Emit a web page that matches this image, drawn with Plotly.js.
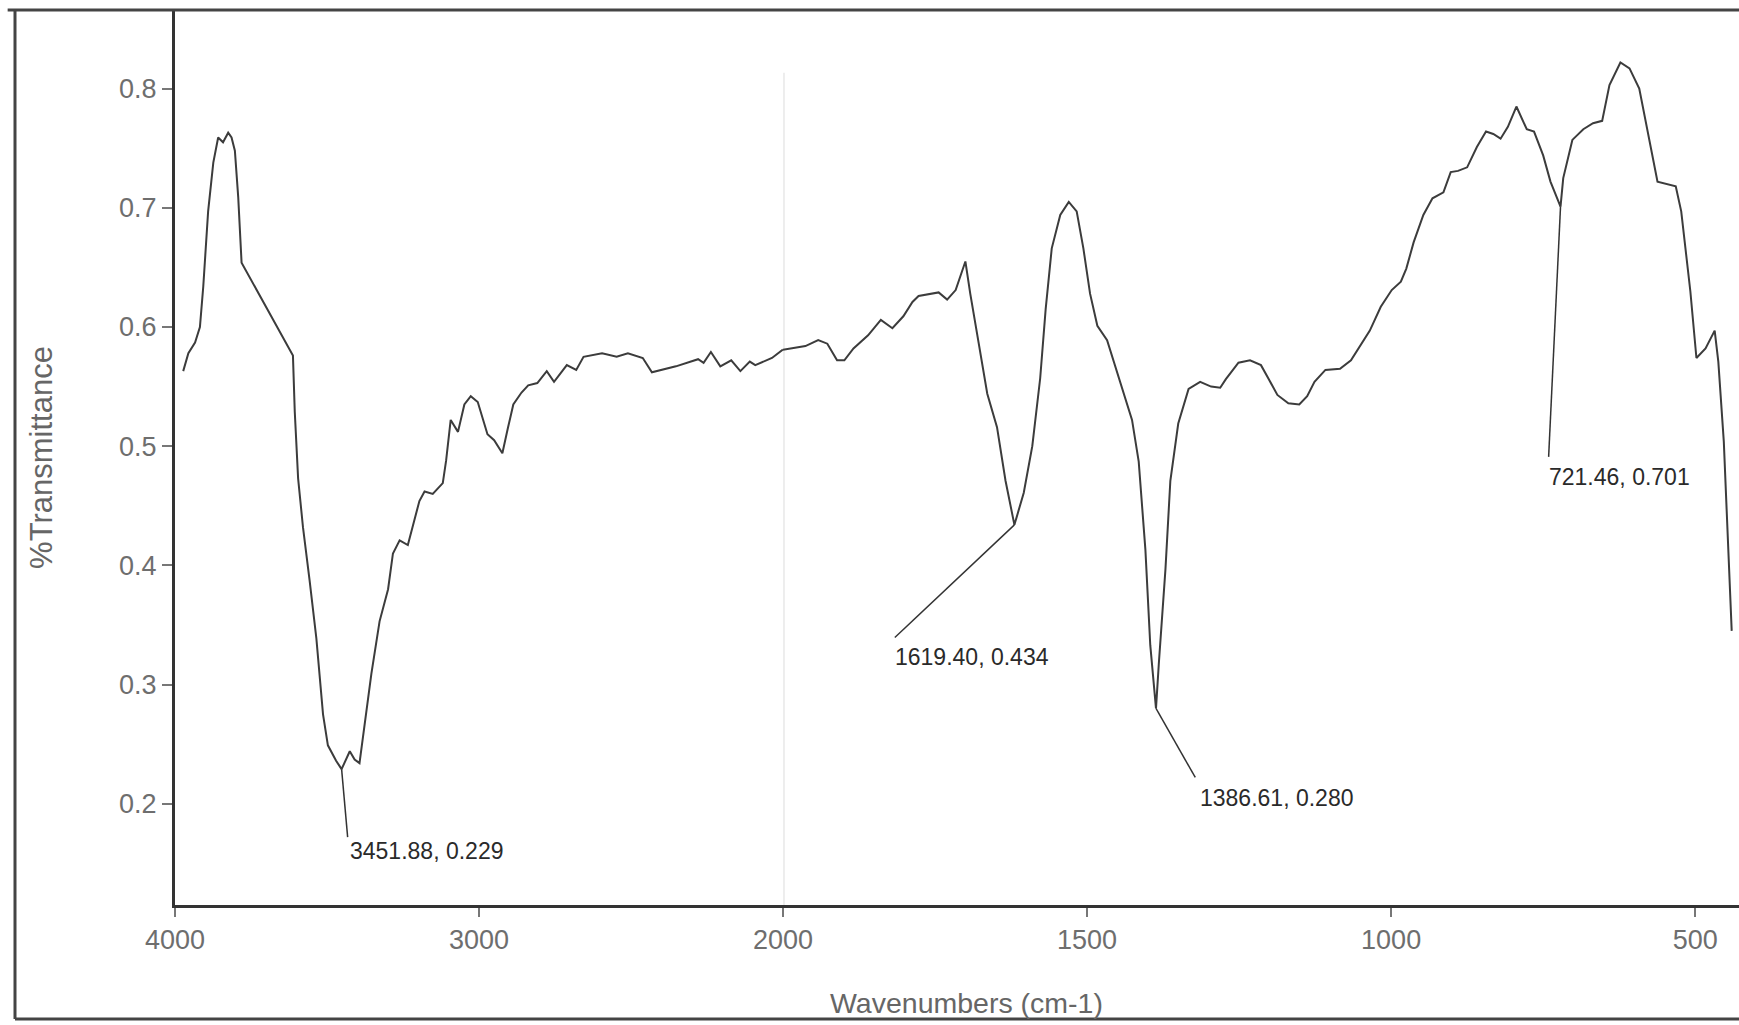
<!DOCTYPE html>
<html>
<head>
<meta charset="utf-8">
<script src="https://cdn.plot.ly/plotly-3.0.1.min.js"></script>
<style>
html, body { margin: 0; padding: 0; background: #ffffff; }
#chart { width: 1739px; height: 1025px; }
</style>
</head>
<body>
<div id="chart"></div>
<script>
// ---- Data ----
const wavenumber = [
  3973, 3956, 3934, 3918, 3907, 3891, 3874, 3858, 3842, 3825, 3814, 3803, 3792, 3781,
  3612, 3606, 3595, 3579, 3557, 3535, 3513, 3497, 3470, 3451.88, 3425, 3409, 3393, 3376,
  3354, 3327, 3299, 3283, 3261, 3234, 3218, 3196, 3179, 3152, 3119, 3108, 3093, 3069,
  3048, 3027, 3004, 2972, 2950, 2923, 2905, 2887, 2860, 2838, 2808, 2777, 2753, 2711,
  2680, 2656, 2595, 2547, 2510, 2461, 2431, 2352, 2279, 2261, 2237, 2206, 2170, 2140,
  2109, 2091, 2036, 2000,
  1963, 1942, 1927, 1911, 1899, 1884, 1860, 1839, 1820, 1802, 1787, 1777, 1744, 1730,
  1716, 1700, 1692, 1678, 1664, 1648, 1634, 1619.40, 1604, 1590, 1577, 1568, 1558, 1544,
  1530, 1517, 1506, 1495, 1483, 1467, 1448, 1426, 1415, 1404, 1396, 1386.61, 1382, 1371,
  1363, 1350, 1333, 1314, 1296, 1281, 1272, 1251, 1232, 1214, 1202, 1187, 1169, 1151,
  1138, 1126, 1108, 1084, 1066, 1050, 1035, 1017, 999, 984, 975, 963, 947, 932,
  914, 902, 890, 875, 859, 844, 832, 820, 808, 794, 777, 765, 750, 738,
  721.46, 717, 702, 684, 668, 653, 641, 623, 608, 592, 580, 562, 532, 523,
  508, 498, 483, 468, 462, 453, 440
];
const transmittance = [
  0.563, 0.578, 0.587, 0.600, 0.634, 0.697, 0.738, 0.759, 0.755, 0.763, 0.759, 0.748, 0.709, 0.654,
  0.576, 0.529, 0.473, 0.432, 0.387, 0.339, 0.275, 0.249, 0.236, 0.229, 0.244, 0.237, 0.234, 0.267,
  0.309, 0.353, 0.380, 0.410, 0.421, 0.417, 0.432, 0.454, 0.462, 0.460, 0.469, 0.488, 0.522, 0.512,
  0.535, 0.542, 0.537, 0.510, 0.505, 0.494, 0.515, 0.535, 0.545, 0.551, 0.553, 0.563, 0.554, 0.568,
  0.564, 0.575, 0.578, 0.575, 0.578, 0.574, 0.562, 0.567, 0.573, 0.570, 0.579, 0.567, 0.572, 0.563,
  0.571, 0.568, 0.574, 0.581,
  0.584, 0.589, 0.586, 0.572, 0.572, 0.582, 0.593, 0.606, 0.599, 0.609, 0.621, 0.626, 0.629, 0.623,
  0.631, 0.655, 0.628, 0.586, 0.544, 0.516, 0.471, 0.434, 0.461, 0.500, 0.557, 0.615, 0.666, 0.694,
  0.705, 0.697, 0.666, 0.628, 0.601, 0.589, 0.557, 0.522, 0.487, 0.413, 0.333, 0.280, 0.317, 0.397,
  0.471, 0.519, 0.548, 0.554, 0.550, 0.549, 0.556, 0.570, 0.572, 0.568, 0.557, 0.543, 0.536, 0.535,
  0.542, 0.554, 0.564, 0.565, 0.572, 0.585, 0.597, 0.617, 0.631, 0.638, 0.649, 0.671, 0.694, 0.708,
  0.713, 0.730, 0.731, 0.734, 0.751, 0.764, 0.762, 0.758, 0.768, 0.785, 0.766, 0.764, 0.744, 0.722,
  0.701, 0.725, 0.757, 0.766, 0.771, 0.773, 0.803, 0.822, 0.817, 0.800, 0.769, 0.722, 0.718, 0.697,
  0.630, 0.574, 0.582, 0.597, 0.571, 0.504, 0.345
];
const scaleBreak = 2000;                 // the x scale changes at this wavenumber
const ticksHigh = [4000, 3000];
const ticksLow = [2000, 1500, 1000, 500];
const yTicks = [0.2, 0.3, 0.4, 0.5, 0.6, 0.7, 0.8];
const peakX = [3451.88, 1619.40, 1386.61, 721.46];
const peakY = [0.229, 0.434, 0.280, 0.701];
const peakLabels = ["3451.88, 0.229", "1619.40, 0.434", "1386.61, 0.280", "721.46, 0.701"];

// ---- Layout-only settings (label placement of the peak callouts) ----
const calloutPlacement = [
  { endX: 3432, endY: 0.172, textX: 3432, textY: 0.160 },
  { endX: 1816, endY: 0.3395, textX: 1819, textY: 0.3235 },
  { endX: 1322, endY: 0.222, textX: 1317, textY: 0.2045 },
  { endX: 741, endY: 0.491, textX: 744, textY: 0.474 }
];

const hiX = [], hiY = [], loX = [], loY = [];
wavenumber.forEach((w, i) => {
  if (w >= scaleBreak) { hiX.push(w); hiY.push(transmittance[i]); }
  if (w <= scaleBreak) { loX.push(w); loY.push(transmittance[i]); }
});

const lineStyle = { color: '#3c3c3c', width: 2 };
const traces = [
  { x: hiX, y: hiY, xaxis: 'x', yaxis: 'y', type: 'scatter', mode: 'lines', line: lineStyle, hoverinfo: 'x+y' },
  { x: loX, y: loY, xaxis: 'x2', yaxis: 'y', type: 'scatter', mode: 'lines', line: lineStyle, hoverinfo: 'x+y' }
];

const FONT = '"Liberation Sans", Arial, sans-serif';
const tickFont = { family: FONT, size: 27, color: '#6e6e6e' };
const split = 0.3887;

const xCommon = {
  ticks: 'outside', ticklen: 9, tickwidth: 2, tickcolor: '#777',
  showline: true, linewidth: 3, linecolor: '#333',
  showgrid: false, zeroline: false, tickfont: tickFont, anchor: 'y',
  fixedrange: true
};

const shapes = [];
const annotations = [];
peakX.forEach((px, i) => {
  const ax = px >= scaleBreak ? 'x' : 'x2';
  const c = calloutPlacement[i];
  shapes.push({
    type: 'line', xref: ax, yref: 'y',
    x0: px, y0: peakY[i], x1: c.endX, y1: c.endY,
    line: { color: '#333', width: 1.5 }
  });
  annotations.push({
    xref: ax, yref: 'y', x: c.textX, y: c.textY,
    text: peakLabels[i], showarrow: false,
    xanchor: 'left', yanchor: 'middle',
    font: { family: FONT, size: 23, color: '#2a2a2a' }
  });
});

// faint seam at the scale break
shapes.push({
  type: 'line', xref: 'x2', yref: 'paper', x0: scaleBreak, x1: scaleBreak, y0: 0.0, y1: 0.93,
  line: { color: '#ededed', width: 4 }, layer: 'below'
});
// outer frame of the figure
const frame = { color: '#444', width: 3 };
shapes.push({ type: 'line', xref: 'paper', yref: 'paper', x0: -0.1023, x1: -0.1023, y0: -0.1274, y1: 1.0, line: frame });
shapes.push({ type: 'line', xref: 'paper', yref: 'paper', x0: -0.107, x1: 1.0, y0: 1.0, y1: 1.0, line: frame });
shapes.push({ type: 'line', xref: 'paper', yref: 'paper', x0: -0.1023, x1: 1.0, y0: -0.1274, y1: -0.1274, line: frame });

annotations.push({
  xref: 'paper', yref: 'paper', x: 0.5058, y: -0.1095,
  text: 'Wavenumbers (cm-1)', showarrow: false,
  xanchor: 'center', yanchor: 'middle',
  font: { family: FONT, size: 28.5, color: '#666' }
});

const layout = {
  width: 1739, height: 1025,
  margin: { l: 175, r: 0, t: 10, b: 120 },
  paper_bgcolor: '#ffffff', plot_bgcolor: '#ffffff',
  showlegend: false,
  xaxis: Object.assign({}, xCommon, { domain: [0, split], range: [4000, scaleBreak], tickvals: ticksHigh }),
  xaxis2: Object.assign({}, xCommon, { domain: [split, 1], range: [scaleBreak, 428], tickvals: ticksLow }),
  yaxis: {
    range: [0.115, 0.866], tickvals: yTicks, tickformat: '.1f',
    ticks: 'outside', ticklen: 10, tickwidth: 2, tickcolor: '#777',
    showline: true, linewidth: 3, linecolor: '#333',
    showgrid: false, zeroline: false, tickfont: tickFont, anchor: 'x',
    fixedrange: true,
    title: { text: '%Transmittance', font: { family: FONT, size: 31, color: '#666' }, standoff: 58 }
  },
  shapes: shapes,
  annotations: annotations
};

Plotly.newPlot('chart', traces, layout, { displayModeBar: false, staticPlot: true });
</script>
</body>
</html>
